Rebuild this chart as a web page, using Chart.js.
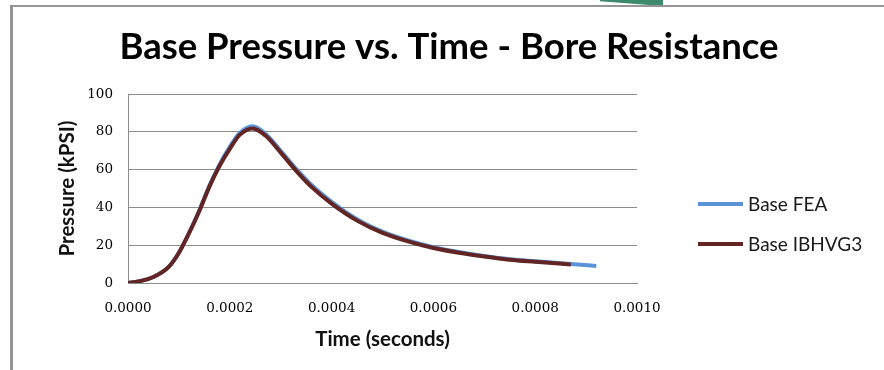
<!DOCTYPE html>
<html>
<head>
<meta charset="utf-8">
<title>Base Pressure vs. Time - Bore Resistance</title>
<script src="https://cdn.jsdelivr.net/npm/chart.js@4.4.0/dist/chart.umd.min.js"></script>
<style>
    html, body { margin: 0; padding: 0; background: #fff; }
    #wrap { position: relative; width: 884px; height: 370px; overflow: hidden; }
    #frame { position: absolute; left: 10px; top: 5px; right: -10px; bottom: -10px; border-left: 3px solid #959595; border-top: 2px solid #959595; }
    #tab { position: absolute; left: 600px; top: 0; width: 63px; height: 5px; background: #3d8a6e; clip-path: polygon(0 0, 100% 0, 100% 100%, 78% 100%, 0 25%); }
    canvas { position: absolute; left: 0; top: 0; }
</style>
</head>
<body>
<div id="wrap">
    <div id="frame"></div>
    <div id="tab"></div>
    <canvas id="pressureChart" width="884" height="370"></canvas>
</div>
<script>
// ========================================
// DATA
// ========================================
const xTicks = [0, 0.0002, 0.0004, 0.0006, 0.0008, 0.0010];
const yTicks = [0, 20, 40, 60, 80, 100];

const feaTime = [0, 0.00002, 0.00005, 0.00008, 0.0001, 0.00012, 0.00014, 0.00016, 0.00018, 0.0002,
    0.00022, 0.000245, 0.00027, 0.0003, 0.00033, 0.00036, 0.0004, 0.00045, 0.0005, 0.00055,
    0.0006, 0.00065, 0.0007, 0.00075, 0.0008, 0.00087, 0.00092];
const feaPressure = [0, 0.8, 3.2, 8.5, 16, 26.5, 38.5, 51.5, 62.8, 72,
    79.5, 83, 79, 70, 60.5, 52, 43, 33.8, 27.2, 22.5,
    19, 16.4, 14.3, 12.6, 11.5, 10, 9];

const ibhvgTime = [0, 0.00002, 0.00005, 0.00008, 0.0001, 0.00012, 0.00014, 0.00016, 0.00018, 0.0002,
    0.00022, 0.000245, 0.00027, 0.0003, 0.00033, 0.00036, 0.0004, 0.00045, 0.0005, 0.00055,
    0.0006, 0.00065, 0.0007, 0.00075, 0.0008, 0.00087];
const ibhvgPressure = [0, 0.8, 3.2, 8.5, 16, 26.4, 38, 51, 62, 71,
    78.5, 81.8, 78, 69, 59.5, 51, 42, 33, 26.5, 22,
    18.5, 16, 14, 12.3, 11.2, 9.8];

function toPoints(times, values) {
    return times.map((t, i) => ({ x: t, y: values[i] }));
}

// legend drawn beside the plot, like the spreadsheet original
const sideLegend = {
    id: 'sideLegend',
    afterDraw(chart) {
        const { ctx, chartArea } = chart;
        ctx.save();
        ctx.font = '19px Lato';
        ctx.textBaseline = 'middle';
        chart.data.datasets.forEach((ds, i) => {
            const x = chartArea.right + 61;
            const y = chartArea.top + 110 + i * 40;
            ctx.strokeStyle = ds.borderColor;
            ctx.lineWidth = 4;
            ctx.beginPath();
            ctx.moveTo(x, y);
            ctx.lineTo(x + 45, y);
            ctx.stroke();
            ctx.fillStyle = '#1a1a1a';
            ctx.fillText(ds.label, x + 50, y + 1);
        });
        ctx.restore();
    }
};

const tickFont = { family: 'DejaVu Serif', size: 13.5 };
const axisTitleFont = { family: 'Lato', size: 20.5, weight: 'bold' };

new Chart(document.getElementById('pressureChart'), {
    type: 'line',
    data: {
        datasets: [{
            label: 'Base FEA',
            data: toPoints(feaTime, feaPressure),
            borderColor: '#5a93d8',
            order: 2
        }, {
            label: 'Base IBHVG3',
            data: toPoints(ibhvgTime, ibhvgPressure),
            borderColor: '#632523',
            order: 1
        }]
    },
    options: {
        responsive: false,
        animation: false,
        layout: { padding: { left: 14, right: 0, top: 0, bottom: 0 } },
        elements: {
            line: { borderWidth: 4, fill: false, cubicInterpolationMode: 'monotone' },
            point: { radius: 0 }
        },
        plugins: {
            legend: { display: false },
            tooltip: { enabled: false },
            title: {
                display: true,
                text: 'Base Pressure vs. Time - Bore Resistance',
                color: '#000',
                font: { family: 'Lato', size: 36.5, weight: 'bold' },
                padding: { top: 25, bottom: 25.2 }
            }
        },
        scales: {
            x: {
                type: 'linear',
                min: 0,
                max: 0.001,
                afterBuildTicks: scale => { scale.ticks = xTicks.map(v => ({ value: v })); },
                afterFit: scale => { scale.height = 87; },
                grid: { display: false, drawTicks: false },
                border: { display: true, color: '#8c8c8c', width: 1 },
                ticks: { font: tickFont, color: '#000', padding: 17, maxRotation: 0, callback: v => v.toFixed(4) },
                title: { display: true, text: 'Time (seconds)', color: '#111', font: axisTitleFont, padding: { top: 4, bottom: 18 } }
            },
            y: {
                min: 0,
                max: 100,
                afterBuildTicks: scale => { scale.ticks = yTicks.map(v => ({ value: v })); },
                afterFit: scale => { scale.width = 114; },
                grid: { color: '#8c8c8c', lineWidth: 1, drawTicks: false },
                border: { display: true, color: '#8c8c8c', width: 1 },
                ticks: { font: tickFont, color: '#000', padding: 15 },
                title: { display: true, text: 'Pressure (kPSI)', color: '#111', font: axisTitleFont, padding: { top: 41, bottom: 0 } }
            },
            legendSpace: {
                position: 'right',
                display: true,
                afterFit: scale => { scale.width = 247; },
                grid: { display: false, drawTicks: false },
                border: { display: false },
                ticks: { display: false }
            }
        }
    },
    plugins: [sideLegend]
});
</script>
</body>
</html>
